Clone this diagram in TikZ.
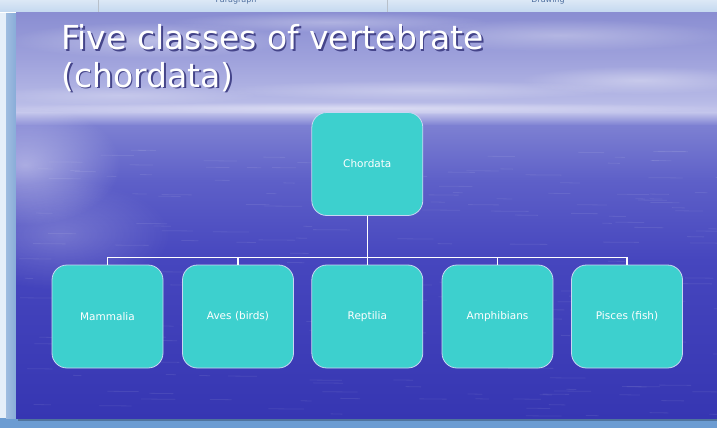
\documentclass[tikz,border=0pt]{standalone}
\usepackage{fontspec}
\setmainfont{DejaVu Sans}
\usetikzlibrary{fadings}

\definecolor{winbottom}{HTML}{6C9CD2}
\definecolor{winleft}{HTML}{88ACD8}
\definecolor{winpale}{HTML}{E6EFF9}
\definecolor{ribbontop}{HTML}{DCE8F6}
\definecolor{ribbonbot}{HTML}{C2D7EF}
\definecolor{ribbontext}{HTML}{4E6E9E}
\definecolor{skyA}{HTML}{8A8ED2}
\definecolor{skyB}{HTML}{9FA2DC}
\definecolor{skyC}{HTML}{B6B9E6}
\definecolor{skyD}{HTML}{C4C6EC}
\definecolor{seaA}{HTML}{7D80D2}
\definecolor{seaB}{HTML}{5E60C8}
\definecolor{seaC}{HTML}{4646BE}
\definecolor{seaD}{HTML}{3636B2}
\definecolor{boxfill}{HTML}{3DD0CE}
\definecolor{boxedge}{HTML}{C9D6F2}
\definecolor{titleshade}{HTML}{45458A}

\tikzfading[name=softglow, inner color=transparent!0, outer color=transparent!100]

\newcommand{\shadowed}[1]{\makebox[0pt][l]{\hspace{1.8pt}\raisebox{-1.8pt}{\textcolor{titleshade}{#1}}}#1}

\tikzset{
  classbox/.style={rectangle, rounded corners=15pt, fill=boxfill, draw=boxedge,
    line width=0.8pt, minimum width=111pt, minimum height=103pt, inner sep=0pt,
    text=white, font=\fontsize{10.5}{12}\selectfont},
  link/.style={draw=white, line width=1.3pt},
  titletext/.style={text=white, inner sep=0pt, anchor=base west,
    font=\fontsize{33}{37}\selectfont},
  ribbonlabel/.style={text=ribbontext, inner sep=0pt, anchor=base,
    font=\fontsize{8}{9}\selectfont},
  cloud/.style={fill=white, path fading=softglow},
}

\begin{document}
\begin{tikzpicture}[x=1pt,y=-1pt]
\useasboundingbox (0,0) rectangle (717,428);

% application window around the slide
\fill[winbottom] (0,0) rectangle (717,428);
\fill[winpale] (0,0) rectangle (6,418);
\fill[left color=winleft!80!white, right color=winleft] (6,13) rectangle (16,418);
\fill[top color=ribbontop, bottom color=ribbonbot] (0,0) rectangle (717,13);
\draw[white, line width=0.8pt] (0,12.6) -- (717,12.6);
\draw[ribbonbot!70!black!60!white, line width=0.6pt] (98,0) -- (98,12);
\draw[ribbonbot!70!black!60!white, line width=0.6pt] (387,0) -- (387,12);
\node[ribbonlabel] (paragraphlabel) at (236,3) {Paragraph};
\node[ribbonlabel] (drawinglabel) at (548,3) {Drawing};

% slide shadow
\fill[black, opacity=0.25] (18,418) rectangle (717,420.5);

% slide background: sky over sea
\begin{scope}
\clip (16,13) rectangle (717,418);
\fill[top color=skyA, bottom color=skyB] (16,13) rectangle (717,60.5);
\fill[top color=skyB, bottom color=skyC] (16,60) rectangle (717,100.5);
\fill[top color=skyC, bottom color=skyD] (16,100) rectangle (717,112.5);
\fill[top color=skyD, bottom color=seaA] (16,112) rectangle (717,125.5);
\fill[top color=seaA, bottom color=seaB] (16,125) rectangle (717,180.5);
\fill[top color=seaB, bottom color=seaC] (16,180) rectangle (717,260.5);
\fill[top color=seaC, bottom color=seaD] (16,260) rectangle (717,418);

% clouds
\fill[cloud, opacity=0.35] (150,40) ellipse (140 and 18);
\fill[cloud, opacity=0.30] (330,22) ellipse (160 and 10);
\fill[cloud, opacity=0.30] (560,35) ellipse (170 and 16);
\fill[cloud, opacity=0.35] (640,80) ellipse (120 and 14);
\fill[cloud, opacity=0.30] (420,90) ellipse (200 and 10);
\fill[cloud, opacity=0.25] (120,95) ellipse (140 and 10);
\fill[cloud, opacity=0.45] (360,108) ellipse (380 and 6);

% sunlight glare on the water
\fill[cloud, opacity=0.45] (25,165) ellipse (95 and 60);
\fill[cloud, opacity=0.22] (60,235) ellipse (110 and 55);

% ripples on the water
\pgfmathsetseed{4242}
\foreach \i in {1,...,220}{
  \pgfmathsetmacro{\rx}{16+rnd*701}
  \pgfmathsetmacro{\ry}{150+rnd*268}
  \pgfmathsetmacro{\rl}{8+rnd*30}
  \draw[white, opacity=0.08, line width=0.8pt] (\rx,\ry) -- ++(\rl,0.3);
}
\end{scope}

% title
\node[titletext] (titlelineA) at (61,50) {\shadowed{Five classes of vertebrate}};
\node[titletext] (titlelineB) at (61,87) {\shadowed{(chordata)}};

% hierarchy
\node[classbox] (chordata) at (367.3,164) {Chordata};
\node[classbox] (mammalia) at (107.5,316.5) {Mammalia};
\node[classbox] (aves) at (238,316.5) {Aves (birds)};
\node[classbox] (reptilia) at (367.3,316.5) {Reptilia};
\node[classbox] (amphibians) at (497.5,316.5) {Amphibians};
\node[classbox] (pisces) at (627,316.5) {Pisces (fish)};

\coordinate (bus) at (367.3,257.5);
\foreach \c in {mammalia,aves,reptilia,amphibians,pisces}
  \draw[link] (chordata.south) -- (bus) -| (\c.north);
\end{tikzpicture}
\end{document}
